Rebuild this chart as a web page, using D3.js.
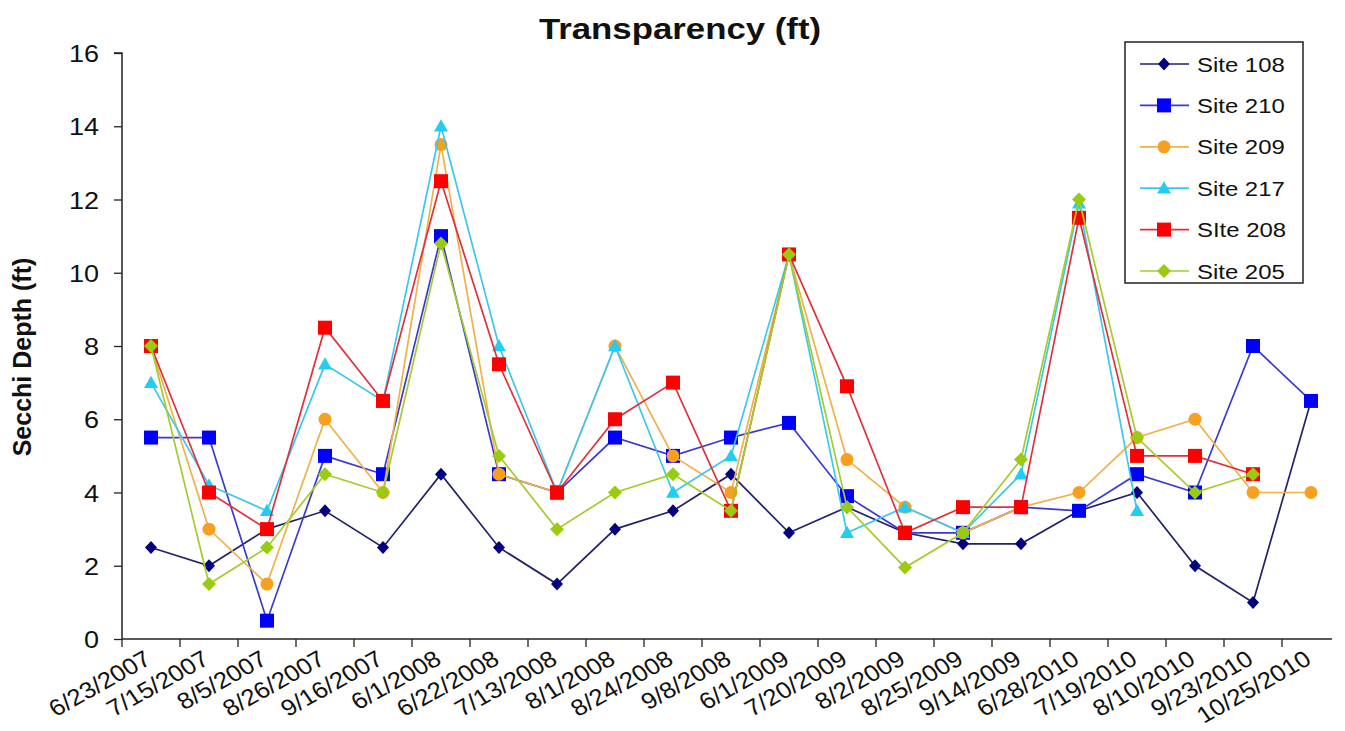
<!DOCTYPE html>
<html>
<head>
<meta charset="utf-8">
<script src="https://cdn.jsdelivr.net/npm/d3@7"></script>
<style>
  html, body { margin: 0; padding: 0; background: #ffffff; }
  svg { display: block; font-family: "Liberation Sans", Arial, sans-serif; }
</style>
</head>
<body>
<svg id="chart" width="1345" height="731"></svg>
<script>
// ---------- data ----------
const categories = ["6/23/2007","7/15/2007","8/5/2007","8/26/2007","9/16/2007","6/1/2008","6/22/2008","7/13/2008","8/1/2008","8/24/2008","9/8/2008","6/1/2009","7/20/2009","8/2/2009","8/25/2009","9/14/2009","6/28/2010","7/19/2010","8/10/2010","9/23/2010","10/25/2010"];
const site108 = [2.5,2.0,3.0,3.5,2.5,4.5,2.5,1.5,3.0,3.5,4.5,2.9,3.6,2.9,2.6,2.6,3.5,4.0,2.0,1.0,6.5];
const site210 = [5.5,5.5,0.5,5.0,4.5,11.0,4.5,4.0,5.5,5.0,5.5,5.9,3.9,2.9,2.9,3.6,3.5,4.5,4.0,8.0,6.5];
const site209 = [8.0,3.0,1.5,6.0,4.0,13.5,4.5,4.0,8.0,5.0,4.0,10.5,4.9,3.6,2.9,3.6,4.0,5.5,6.0,4.0,4.0];
const site217 = [7.0,4.2,3.5,7.5,6.5,14.0,8.0,4.0,8.0,4.0,5.0,10.5,2.9,3.6,2.9,4.5,11.9,3.5,null,null,null];
const site208 = [8.0,4.0,3.0,8.5,6.5,12.5,7.5,4.0,6.0,7.0,3.5,10.5,6.9,2.9,3.6,3.6,11.5,5.0,5.0,4.5,null];
const site205 = [8.0,1.5,2.5,4.5,4.0,10.8,5.0,3.0,4.0,4.5,3.5,10.5,3.6,1.95,2.9,4.9,12.0,5.5,4.0,4.5,null];
const seriesNames = ["Site 108","Site 210","Site 209","Site 217","SIte 208","Site 205"];
const yTicks = [0,2,4,6,8,10,12,14,16];
const chartTitle = "Transparency  (ft)";
const yTitle = "Secchi Depth (ft)";

// ---------- styles ----------
const styles = [
  {line:"#22226a", fill:"#000080", shape:"diamond", w:6, h:6.5},
  {line:"#3a3ad0", fill:"#0000ff", shape:"square", w:7, h:7},
  {line:"#f2b04a", fill:"#f7a020", shape:"circle", w:6.5, h:6.5},
  {line:"#3ac8ec", fill:"#22ccf4", shape:"triangle", w:7, h:7},
  {line:"#e0303c", fill:"#ff0000", shape:"square", w:7, h:7},
  {line:"#a4cc2c", fill:"#99cc11", shape:"diamond", w:7, h:7}
];
const seriesData = [site108, site210, site209, site217, site208, site205];

const svg = d3.select("#chart");
const L = 122, R = 1340, T = 53, B = 639;

const x = d3.scaleBand().domain(categories).range([L, R]).padding(0);
const y = d3.scaleLinear().domain([0, 16]).range([B, T]);
const cx = d => x(d) + x.bandwidth() / 2;

function markerPath(s) {
  const w = s.w, h = s.h;
  if (s.shape === "diamond") return `M0,${-h}L${w},0L0,${h}L${-w},0Z`;
  if (s.shape === "square") return `M${-w},${-h}H${w}V${h}H${-w}Z`;
  if (s.shape === "triangle") return `M0,${-h}L${w},${h*0.75}L${-w},${h*0.75}Z`;
  return `M${-w},0A${w},${w} 0 1,0 ${w},0A${w},${w} 0 1,0 ${-w},0Z`;
}

// ---------- title ----------
svg.append("text")
  .attr("transform", `translate(680,39) scale(1.16,1)`)
  .attr("text-anchor", "middle")
  .attr("font-size", 30).attr("font-weight", "bold").attr("fill", "#111")
  .text(chartTitle);

// ---------- y axis ----------
const yAxis = d3.axisLeft(y).tickValues(yTicks).tickSize(8).tickPadding(0).tickFormat(d3.format("d"));
const gy = svg.append("g").attr("transform", `translate(${L},0)`).call(yAxis);
gy.select(".domain").attr("stroke", "#222").attr("stroke-width", 1.5).attr("d", `M-8,${T}H0V${B}`);
gy.selectAll(".tick line").attr("stroke", "#222").attr("stroke-width", 1.3);
gy.selectAll(".tick text").remove();
gy.selectAll(".tick").append("text")
  .attr("transform", `translate(-23,8.5) scale(1.15,1)`)
  .attr("text-anchor", "end").attr("font-size", 23.5).attr("fill", "#111")
  .text(d => d3.format("d")(d));

svg.append("text")
  .attr("transform", `translate(31,357) rotate(-90)`)
  .attr("text-anchor", "middle")
  .attr("font-size", 25).attr("font-weight", "bold").attr("fill", "#111")
  .text(yTitle);

// ---------- x axis ----------
const xAxis = d3.axisBottom(x).tickSize(0).tickFormat("");
const gx = svg.append("g").attr("transform", `translate(0,${B})`).call(xAxis);
gx.select(".domain").attr("stroke", "#222").attr("stroke-width", 1.5).attr("d", `M${L},0H${R - 8}`);
const bounds = categories.map(d => x(d));
gx.selectAll("line.bt").data(bounds).join("line").attr("class", "bt")
  .attr("x1", d => d).attr("x2", d => d).attr("y1", 0).attr("y2", 8)
  .attr("stroke", "#222").attr("stroke-width", 1.3);
svg.append("g").selectAll("text").data(categories).join("text")
  .attr("transform", d => `translate(${cx(d) + 2},663) scale(1.12,1) rotate(-32)`)
  .attr("text-anchor", "end").attr("font-size", 23).attr("fill", "#111")
  .text(d => d);

// ---------- series ----------
const line = d3.line().defined(d => d.v != null).x(d => cx(d.c)).y(d => y(d.v));
seriesData.forEach((vals, i) => {
  const pts = categories.map((c, j) => ({c, v: vals[j]}));
  const g = svg.append("g");
  g.append("path").datum(pts).attr("d", line)
    .attr("fill", "none").attr("stroke", styles[i].line).attr("stroke-width", 1.7);
  g.selectAll("path.m").data(pts.filter(p => p.v != null)).join("path").attr("class", "m")
    .attr("transform", p => `translate(${cx(p.c)},${y(p.v)})`)
    .attr("d", markerPath(styles[i])).attr("fill", styles[i].fill);
});

// ---------- legend ----------
const lg = svg.append("g");
lg.append("rect").attr("x", 1125).attr("y", 42).attr("width", 178).attr("height", 241)
  .attr("fill", "#fff").attr("stroke", "#222").attr("stroke-width", 1.5);
const ly = d3.scalePoint().domain(seriesNames).range([64, 271]);
seriesNames.forEach((n, i) => {
  const yy = ly(n);
  lg.append("line").attr("x1", 1140).attr("x2", 1189).attr("y1", yy).attr("y2", yy)
    .attr("stroke", styles[i].line).attr("stroke-width", 1.7);
  lg.append("path").attr("transform", `translate(1164,${yy})`)
    .attr("d", markerPath(styles[i])).attr("fill", styles[i].fill);
  lg.append("text").attr("transform", `translate(1197,${yy + 7.5}) scale(1.14,1)`)
    .attr("font-size", 21).attr("fill", "#111").text(n);
});
</script>
</body>
</html>
